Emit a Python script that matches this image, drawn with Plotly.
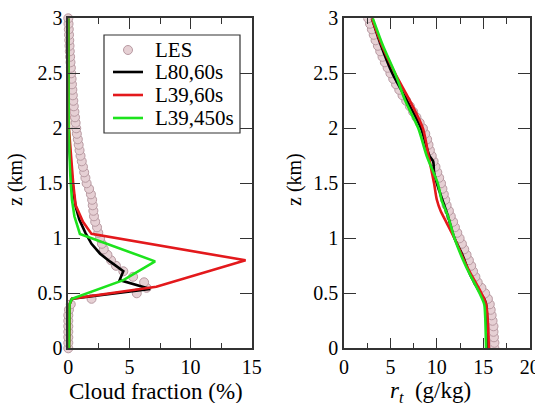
import plotly.graph_objects as go

# ---------------- data ----------------
# LES heights (km)
les_z = [round(0.05 * i, 2) for i in range(61)]
les_cf = [0.0, 0.0, 0.0, 0.0, 0.0, 0.0, 0.0, 0.05, 0.2, 1.9,
          5.6, 6.4, 6.2, 5.3, 4.5, 3.9, 3.5, 3.2, 2.9, 2.75,
          2.6, 2.45, 2.35, 2.2, 2.1, 2.05, 2.0, 1.95, 1.85, 1.7,
          1.5, 1.4, 1.3, 1.2, 1.1, 1.0, 0.92, 0.85, 0.78, 0.7,
          0.65, 0.6, 0.55, 0.5, 0.45, 0.41, 0.37, 0.33, 0.3, 0.27,
          0.24, 0.21, 0.18, 0.15, 0.12, 0.1, 0.08, 0.06, 0.04, 0.02, 0.0]
les_rt = [16.2, 16.2, 16.15, 16.1, 16.1, 16.0, 15.9, 15.8, 15.7, 15.5,
          15.2, 14.8, 14.4, 14.15, 13.9, 13.7, 13.45, 13.2, 12.95, 12.7,
          12.45, 12.2, 11.95, 11.75, 11.5, 11.3, 11.05, 10.9, 10.75, 10.6,
          10.45, 10.25, 10.05, 9.85, 9.65, 9.45, 9.25, 9.1, 8.95, 8.75,
          8.5, 8.15, 7.8, 7.45, 7.1, 6.7, 6.3, 5.95, 5.6, 5.3,
          5.0, 4.7, 4.4, 4.15, 3.9, 3.65, 3.4, 3.2, 3.0, 2.8, 2.6]

# Cloud fraction (%) profiles
l80_cf_z = [0, 0.2, 0.4, 0.45, 0.54, 0.62, 0.70, 0.79, 0.86, 0.95, 1.05, 1.17, 1.29, 1.4, 1.5, 1.6, 1.7, 1.8, 2.0, 2.5, 3.0]
l80_cf = [0.05, 0.05, 0.1, 0.3, 6.7, 4.2, 4.5, 3.4, 2.6, 1.9, 1.4, 0.9, 0.6, 0.45, 0.35, 0.25, 0.15, 0.07, 0.03, 0.01, 0.0]

l39_cf_z = [0, 0.2, 0.4, 0.45, 0.56, 0.80, 1.04, 1.15, 1.3, 1.5, 1.65, 1.8, 2.0, 2.5, 3.0]
l39_cf = [0.05, 0.05, 0.1, 0.3, 7.2, 14.5, 1.9, 1.2, 0.6, 0.4, 0.3, 0.15, 0.05, 0.01, 0.0]

l39b_cf_z = [0, 0.2, 0.4, 0.45, 0.62, 0.79, 1.04, 1.2, 1.35, 1.5, 1.7, 2.0, 3.0]
l39b_cf = [0.05, 0.05, 0.1, 0.3, 4.5, 7.1, 0.95, 0.5, 0.3, 0.2, 0.1, 0.04, 0.0]

# Total water r_t (g/kg) profiles
l80_rt_z = [0.0, 0.3, 0.4, 0.45, 0.5, 0.65, 0.75, 0.86, 1.0, 1.2, 1.35, 1.5, 1.6, 1.7, 1.75, 2.0, 2.25, 2.5, 2.75, 3.0]
l80_rt = [15.5, 15.4, 15.3, 15.1, 14.7, 13.7, 13.2, 12.7, 11.9, 11.2, 10.6, 10.0, 9.7, 9.6, 9.2, 8.3, 6.8, 5.2, 4.0, 3.0]

l39_rt_z = [0.0, 0.4, 0.5, 0.75, 1.0, 1.15, 1.25, 1.35, 1.5, 1.75, 2.0, 2.25, 2.5, 2.75, 3.0]
l39_rt = [15.6, 15.3, 14.8, 13.2, 11.9, 11.0, 10.4, 10.0, 9.7, 9.1, 8.5, 7.1, 5.5, 4.1, 3.0]

l39b_rt_z = [0.0, 0.3, 0.4, 0.5, 0.75, 1.0, 1.2, 1.35, 1.5, 1.75, 2.0, 2.25, 2.5, 2.75, 3.0]
l39b_rt = [15.3, 15.2, 15.1, 14.6, 13.1, 11.9, 11.2, 10.5, 10.1, 8.9, 8.0, 6.6, 5.5, 4.2, 3.1]

names = ["LES", "L80,60s", "L39,60s", "L39,450s"]
colors = ["black", "#e3191c", "#1de31d"]

# ---------------- figure ----------------
W, H = 535, 403
FONT = "Liberation Serif"

fig = go.Figure()

les_marker = dict(symbol="circle", size=9, color="#e6d0d4",
                  line=dict(color="#b89aa2", width=1))

# left panel
fig.add_trace(go.Scatter(x=les_cf, y=les_z, mode="markers", name=names[0],
                         marker=les_marker, xaxis="x", yaxis="y", cliponaxis=False))
for zz, vv, nm, c in [(l80_cf_z, l80_cf, names[1], colors[0]),
                      (l39_cf_z, l39_cf, names[2], colors[1]),
                      (l39b_cf_z, l39b_cf, names[3], colors[2])]:
    fig.add_trace(go.Scatter(x=vv, y=zz, mode="lines", name=nm,
                             line=dict(color=c, width=2.6),
                             xaxis="x", yaxis="y"))

# right panel
fig.add_trace(go.Scatter(x=les_rt, y=les_z, mode="markers", name=names[0],
                         marker=les_marker, xaxis="x2", yaxis="y2"))
for zz, vv, nm, c in [(l80_rt_z, l80_rt, names[1], colors[0]),
                      (l39_rt_z, l39_rt, names[2], colors[1]),
                      (l39b_rt_z, l39b_rt, names[3], colors[2])]:
    fig.add_trace(go.Scatter(x=vv, y=zz, mode="lines", name=nm,
                             line=dict(color=c, width=2.6, shape="spline", smoothing=0.8),
                             xaxis="x2", yaxis="y2"))

ydom = [1 - 348.3 / H, 1 - 18.3 / H]
xdom1 = [68.3 / W, 251.7 / W]
xdom2 = [344.0 / W, 529.7 / W]

axis_common = dict(showline=True, linecolor="#333333", linewidth=1.5, mirror="allticks",
                   ticks="inside", tickcolor="#333333", showgrid=False, zeroline=False,
                   tickfont=dict(family=FONT, size=20, color="black"), automargin=False,
                   ticklabeloverflow="allow")

xminor = dict(dtick=2.5, ticks="inside", ticklen=6, tickcolor="#333333", tickwidth=1.2, showgrid=False)

# legend (drawn in paper pixels)
leg_box = dict(x0=104, x1=240, y0=35, y1=133)
leg_rows = [50, 72, 95, 118]

shapes = [dict(type="rect", xref="paper", yref="paper",
               x0=leg_box["x0"] / W, x1=leg_box["x1"] / W,
               y0=1 - leg_box["y1"] / H, y1=1 - leg_box["y0"] / H,
               line=dict(color="#333333", width=1.2), fillcolor="white", layer="above")]
annotations = []
for i, (nm, yy) in enumerate(zip(names, leg_rows)):
    if i == 0:
        shapes.append(dict(type="circle", xref="paper", yref="paper",
                           x0=(128 - 4.5) / W, x1=(128 + 4.5) / W,
                           y0=1 - (yy + 4.5) / H, y1=1 - (yy - 4.5) / H,
                           line=dict(color="#b89aa2", width=1), fillcolor="#e6d0d4", layer="above"))
    else:
        shapes.append(dict(type="line", xref="paper", yref="paper",
                           x0=113 / W, x1=143 / W, y0=1 - yy / H, y1=1 - yy / H,
                           line=dict(color=colors[i - 1], width=2.6), layer="above"))
    annotations.append(dict(text=nm, xref="paper", yref="paper", x=153 / W, y=1 - yy / H,
                            xanchor="left", yanchor="middle", showarrow=False,
                            font=dict(family=FONT, size=21, color="black")))

# axis titles
annotations += [
    dict(text="Cloud fraction (%)", xref="paper", yref="paper", x=156 / W, y=1 - 391 / H,
         xanchor="center", yanchor="middle", showarrow=False,
         font=dict(family=FONT, size=23, color="black")),
    dict(text="<i>r</i><sub><i>t</i></sub>  (g/kg)", xref="paper", yref="paper", x=430 / W, y=1 - 392 / H,
         xanchor="center", yanchor="middle", showarrow=False,
         font=dict(family=FONT, size=23, color="black")),
    dict(text="z (km)", xref="paper", yref="paper", x=15 / W, y=1 - 180 / H, textangle=-90,
         xanchor="center", yanchor="middle", showarrow=False,
         font=dict(family=FONT, size=20, color="black")),
    dict(text="z (km)", xref="paper", yref="paper", x=294 / W, y=1 - 180 / H, textangle=-90,
         xanchor="center", yanchor="middle", showarrow=False,
         font=dict(family=FONT, size=20, color="black")),
]

fig.update_layout(
    width=W, height=H,
    margin=dict(l=0, r=0, t=0, b=0),
    paper_bgcolor="white", plot_bgcolor="white",
    font=dict(family=FONT, size=20, color="black"),
    xaxis=dict(domain=xdom1, range=[0, 15], dtick=5, ticklen=11, tickwidth=1.2,
               minor=xminor, anchor="y", **axis_common),
    yaxis=dict(domain=ydom, range=[0, 3], dtick=0.5, ticklen=12, tickwidth=1.2, anchor="x",
               **axis_common),
    xaxis2=dict(domain=xdom2, range=[0, 20], dtick=5, ticklen=11, tickwidth=1.2,
                minor=xminor, anchor="y2", **axis_common),
    yaxis2=dict(domain=ydom, range=[0, 3], dtick=0.5, ticklen=12, tickwidth=1.2, anchor="x2",
                **axis_common),
    shapes=shapes,
    annotations=annotations,
    showlegend=False,
)

fig.write_html("out.html", config={"displayModeBar": False},
               post_script="document.body.style.margin='0px';document.body.style.padding='0px';")
